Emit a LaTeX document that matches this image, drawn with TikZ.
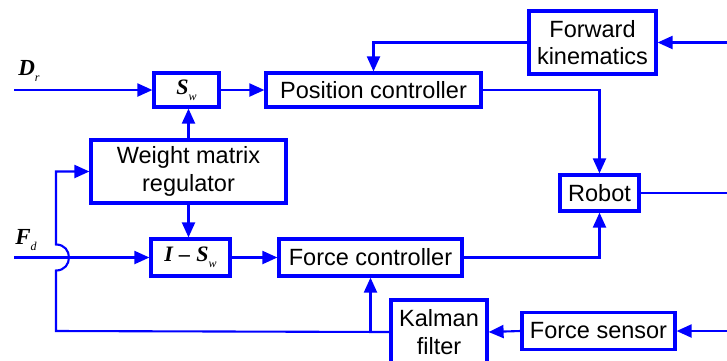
\documentclass[tikz,border=0pt]{standalone}
\usepackage{fontspec}
\setmainfont{Liberation Sans}
\newfontfamily\varserif{Liberation Serif}
\usetikzlibrary{arrows.meta}
\definecolor{lineblue}{RGB}{0,0,255}
% bold italic variable with a small italic subscript
\newcommand{\bvar}[1]{{\varserif\bfseries\itshape #1}}
\newcommand{\svar}[1]{\raisebox{-0.5ex}{\varserif\itshape\fontsize{12}{12}\selectfont #1}}

\begin{document}
\begin{tikzpicture}[x=1pt,y=-1pt,
  block/.style={draw=lineblue, line width=3.2pt, fill=white, inner sep=0pt,
    align=center, font=\fontsize{23.5}{27.5}\selectfont},
  wire/.style={draw=lineblue, line width=2.1pt},
  arr/.style={wire, -{Triangle[length=15pt,width=13pt]}},
  varlabel/.style={inner sep=0pt, font=\fontsize{23}{23}\selectfont}]
\useasboundingbox (0,0) rectangle (727,360);
\clip (0,0) rectangle (727,360);

% blocks
\node[block, minimum width=65pt, minimum height=34pt] (sw) at (186.5,90)
  {\fontsize{22}{22}\selectfont\bvar{S}\svar{w}};
\node[block, minimum width=215pt, minimum height=34pt] (pc) at (373.5,90) {Position controller};
\node[block, minimum width=127pt, minimum height=63pt] (fk) at (592.5,42.5) {Forward\\kinematics};
\node[block, minimum width=79pt, minimum height=36pt] (robot) at (599.5,193) {Robot};
\node[block, minimum width=195pt, minimum height=63pt] (wmr) at (188.5,171.5) {Weight matrix\\regulator};
\node[block, minimum width=79pt, minimum height=37pt] (isw) at (190.5,257.5)
  {\fontsize{22}{22}\selectfont\bvar{I} \bvar{–} \bvar{S}\svar{w}};
\node[block, minimum width=183pt, minimum height=37pt] (fc) at (370.5,257.5) {Force controller};
\node[block, minimum width=96pt, minimum height=64pt] (kf) at (439,332) {Kalman\\filter};
\node[block, minimum width=153pt, minimum height=37pt] (fs) at (598.5,331) {Force sensor};

% input labels
\node[varlabel] (dlabel) at (29,71) {\bvar{D}\svar{r}};
\node[varlabel] (flabel) at (26,240) {\bvar{F}\svar{d}};

% free ends and corners
\coordinate (drin) at (14,90);
\coordinate (fdin) at (14,257.5);
\coordinate (fkin) at (727,42.5);
\coordinate (robout) at (727,193);
\coordinate (fsin) at (727,331);
\coordinate (lpbot) at (56,331);
\coordinate (hoplow) at (56,270.5);
\coordinate (hophigh) at (56,244.5);
\coordinate (lptop) at (56,171.5);

% forward path
\draw[arr] (drin) -- (sw);
\draw[arr] (sw) -- (pc);
\draw[arr] (fdin) -- (isw);
\draw[arr] (isw) -- (fc);
\draw[arr] (wmr.north) -- (wmr.north |- sw.south);
\draw[arr] (wmr.south) -- (wmr.south |- isw.north);
\draw[arr] (pc.east) -| (robot.north);
\draw[arr] (fc.east) -| (robot.south);
\draw[wire] (robot.east) -- (robout);

% feedback paths
\draw[arr] (fkin) -- (fk.east);
\draw[arr] (fk.west) -| (pc.north);
\draw[arr] (fsin) -- (fs.east);
\draw[arr] (fs.west) -- (kf.east);
\draw[arr] (kf.west -| fc.south) -- (fc.south);
\draw[arr] (kf.west) -- (lpbot) -- (hoplow)
  .. controls (73.3,270.5) and (73.3,244.5) .. (hophigh)
  -- (lptop) -- (wmr.west);
\end{tikzpicture}
\end{document}
